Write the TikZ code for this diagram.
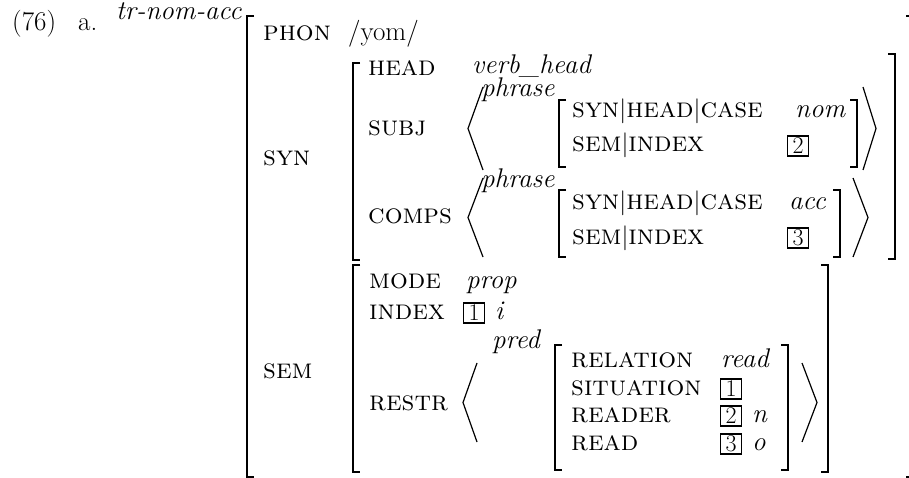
\documentclass[tikz,border=0pt]{standalone}
\begin{document}
\begin{tikzpicture}[x=1pt,y=-1pt,
  lbl/.style={anchor=base west, inner sep=0pt, font=\fontsize{28}{32}\selectfont\scshape},
  txt/.style={anchor=base west, inner sep=0pt, font=\fontsize{27}{31}\selectfont},
  val/.style={anchor=base west, inner sep=0pt, font=\fontsize{27}{31}\selectfont\itshape},
  brk/.style={line width=1.6pt},
  ang/.style={line width=1.2pt},
  tagbox/.style={draw, line width=1.7pt, minimum width=21pt, minimum height=20pt, inner sep=0pt, font=\fontsize{24}{26}\selectfont}]
\useasboundingbox (0,0) rectangle (909,478);
% helpers
\newcommand{\LB}[3]{\draw[brk] (#1+7,#2) -- (#1,#2) -- (#1,#3) -- (#1+7,#3);}
\newcommand{\RB}[3]{\draw[brk] (#1-7,#2) -- (#1,#2) -- (#1,#3) -- (#1-7,#3);}
\newcommand{\LA}[4]{\draw[ang] (#2,#3) -- (#1,{(#3+#4)/2}) -- (#2,#4);}
\newcommand{\RA}[4]{\draw[ang] (#1,#3) -- (#2,{(#3+#4)/2}) -- (#1,#4);}
% heading
\node[txt] (num) at (12,31) {(76)};
\node[txt] (a) at (78,31) {a.};
\node[val] (type) at (116,20) {tr-nom-acc};
% outer brackets
\LB{247}{16}{477}
\RB{913}{16}{477}
\node[lbl] (phon) at (263,41) {phon};
\node[txt] (yom) at (348,41) {/yom/};
\node[lbl] (syn) at (263,166) {syn};
\node[lbl] (sem) at (263,378) {sem};
% SYN matrix
\LB{353}{63}{260}
\RB{895}{54}{259}
\node[lbl] (head) at (368,76) {head};
\node[val] (vh) at (472,74) {verb\_head};
\node[lbl] (subj) at (368,136) {subj};
\node[lbl] (comps) at (368,223) {comps};
% SUBJ value
\LA{468}{483}{87}{170}
\node[val] (ph1) at (481,97) {phrase};
\LB{559}{100}{167}
\RB{857}{100}{167}
\node[lbl] (s1a) at (572,118) {syn$|$head$|$case};
\node[val] (nom) at (795,118) {nom};
\node[lbl] (s1b) at (572,152) {sem$|$index};
\node[tagbox] (t2a) at (798,146) {2};
\RA{863}{876}{87}{170}
% COMPS value
\LA{468}{483}{178}{257}
\node[val] (ph2) at (481,188) {phrase};
\LB{559}{190}{257}
\RB{840}{190}{257}
\node[lbl] (s2a) at (572,210) {syn$|$head$|$case};
\node[val] (acc) at (789,210) {acc};
\node[lbl] (s2b) at (572,244) {sem$|$index};
\node[tagbox] (t3a) at (798,238) {3};
\RA{853}{868}{178}{257}
% SEM matrix
\LB{353}{265}{472}
\RB{828}{265}{472}
\node[lbl] (mode) at (369,288) {mode};
\node[val] (prop) at (466,288) {prop};
\node[lbl] (index) at (369,319) {index};
\node[tagbox] (t1a) at (474,313) {1};
\node[val] (ii) at (495,319) {i};
\node[lbl] (restr) at (369,410) {restr};
\LA{463}{477}{363}{442}
\node[val] (pred) at (492,348) {pred};
\LB{555}{345}{470}
\RB{788}{345}{470}
\node[lbl] (rel) at (571,367) {relation};
\node[val] (read) at (721,367) {read};
\node[lbl] (sit) at (571,395) {situation};
\node[tagbox] (t1b) at (731,389) {1};
\node[lbl] (rdr) at (571,422) {reader};
\node[tagbox] (t2b) at (731,416) {2};
\node[val] (nn) at (752,422) {n};
\node[lbl] (rd) at (571,450) {read};
\node[tagbox] (t3b) at (731,444) {3};
\node[val] (oo) at (752,450) {o};
\RA{802}{817}{363}{442}
\end{tikzpicture}
\end{document}
